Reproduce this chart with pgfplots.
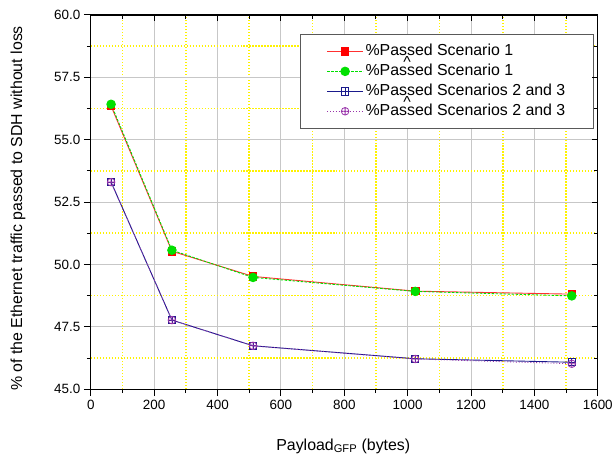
\documentclass[border=0pt]{standalone}
\usepackage{fontspec}
\setmainfont{Liberation Sans}
\usepackage{pgfplots}
\pgfplotsset{compat=1.18}
\usetikzlibrary{plotmarks}
\definecolor{cred}{HTML}{FF3030}
\definecolor{cgreen}{HTML}{00E000}
\definecolor{cnavy}{HTML}{1A1A8C}
\definecolor{cpurple}{HTML}{9933AA}
\pgfdeclareplotmark{boxplus}{%
  \pgfpathrectangle{\pgfpoint{-\pgfplotmarksize}{-\pgfplotmarksize}}{\pgfpoint{2\pgfplotmarksize}{2\pgfplotmarksize}}%
  \pgfpathmoveto{\pgfpoint{-\pgfplotmarksize}{0pt}}\pgfpathlineto{\pgfpoint{\pgfplotmarksize}{0pt}}%
  \pgfpathmoveto{\pgfpoint{0pt}{-\pgfplotmarksize}}\pgfpathlineto{\pgfpoint{0pt}{\pgfplotmarksize}}%
  \pgfusepathqstroke}
\newcommand{\hatpassed}{\%Pas\makebox[0pt]{\raisebox{0.5em}{\textasciicircum}}sed}
\begin{document}
\begin{tikzpicture}
\path (-91bp,-69bp) rectangle (525bp,390bp);
\begin{axis}[
  scale only axis, width=508bp, height=375bp,
  xmin=0, xmax=1600, ymin=45, ymax=60,
  xtick={0,200,400,600,800,1000,1200,1400,1600},
  ytick={45,47.5,50,52.5,55,57.5,60},
  minor xtick={100,300,500,700,900,1100,1300,1500},
  minor ytick={46.25,48.75,51.25,53.75,56.25,58.75},
  grid=both,
  major grid style={draw=black!22, line width=1bp},
  minor grid style={draw=yellow, dash pattern=on 1.2bp off 1.8bp, line width=1.6bp},
  axis line style={line width=1.2bp},
  tick style={black, line width=1bp},
  major tick length=7bp, minor tick length=4bp,
  tick align=outside, xtick pos=left, ytick pos=left,
  /pgf/number format/assume math mode=true,
  ticklabel style={font=\fontsize{13.5}{16}\selectfont},
  yticklabel style={/pgf/number format/.cd, fixed, fixed zerofill, precision=1},
  xticklabel style={/pgf/number format/.cd, fixed, precision=0, 1000 sep={}},
  ylabel={\% of the Ethernet traffic passed to SDH without loss},
  ylabel style={at={(axis description cs:-0.1437,0.483)}, anchor=center, font=\fontsize{16}{19}\selectfont},
  xlabel={Payload\textsubscript{GFP} (bytes)},
  xlabel style={at={(axis description cs:0.498,-0.152)}, anchor=center, font=\fontsize{16}{19}\selectfont},
  legend cell align=left,
  legend image code/.code={\draw[mark repeat=2,mark phase=2,#1] plot coordinates {(0bp,0bp) (18bp,0bp) (36bp,0bp)};},
  legend style={at={(0.992,0.949)}, anchor=north east, draw=black!65, line width=0.8bp, fill=white,
    font=\fontsize{16}{19}\selectfont, inner xsep=26bp, inner ysep=7bp,
    nodes={text height=12bp, text depth=4bp, inner ysep=2bp, inner xsep=2bp}},
]
\addplot[cred, line width=0.9bp, mark=square*, mark size=3.8bp, mark options={solid, fill=red, draw=red}]
  coordinates {(64,56.35) (256,50.53) (512,49.52) (1024,48.93) (1518,48.81)};
\addlegendentry{\%Passed Scenario 1}
\addplot[cgreen, line width=0.9bp, dash pattern=on 2.5bp off 1.5bp, mark=*, mark size=4.3bp, mark options={solid, fill=cgreen, draw=cgreen}]
  coordinates {(64,56.42) (256,50.57) (512,49.48) (1024,48.92) (1518,48.74)};
\addlegendentry{\hatpassed{} Scenario 1}
\addplot[cnavy, line width=0.9bp, mark=boxplus, mark size=3.6bp, mark options={solid, draw=cnavy, line width=0.8bp}]
  coordinates {(64,53.30) (256,47.77) (512,46.74) (1024,46.22) (1518,46.08)};
\addlegendentry{\%Passed Scenarios 2 and 3}
\addplot[cpurple, line width=0.9bp, dotted, mark=oplus, mark size=3.8bp, mark options={solid, draw=cpurple, line width=0.8bp}]
  coordinates {(64,53.30) (256,47.77) (512,46.74) (1024,46.21) (1518,46.02)};
\addlegendentry{\hatpassed{} Scenarios 2 and 3}
\end{axis}
\begin{axis}[
  scale only axis, width=508bp, height=375bp,
  xmin=0, xmax=1600, ymin=45, ymax=60,
  xtick={0,200,400,600,800,1000,1200,1400,1600},
  ytick={45,47.5,50,52.5,55,57.5,60},
  minor xtick={100,300,500,700,900,1100,1300,1500},
  minor ytick={46.25,48.75,51.25,53.75,56.25,58.75},
  xticklabels={}, yticklabels={},
  axis line style={line width=1.2bp},
  tick style={black, line width=1bp},
  major tick length=6bp, minor tick length=4bp,
  tick align=inside, xtick pos=right, ytick pos=right,
]
\end{axis}
\end{tikzpicture}
\end{document}
